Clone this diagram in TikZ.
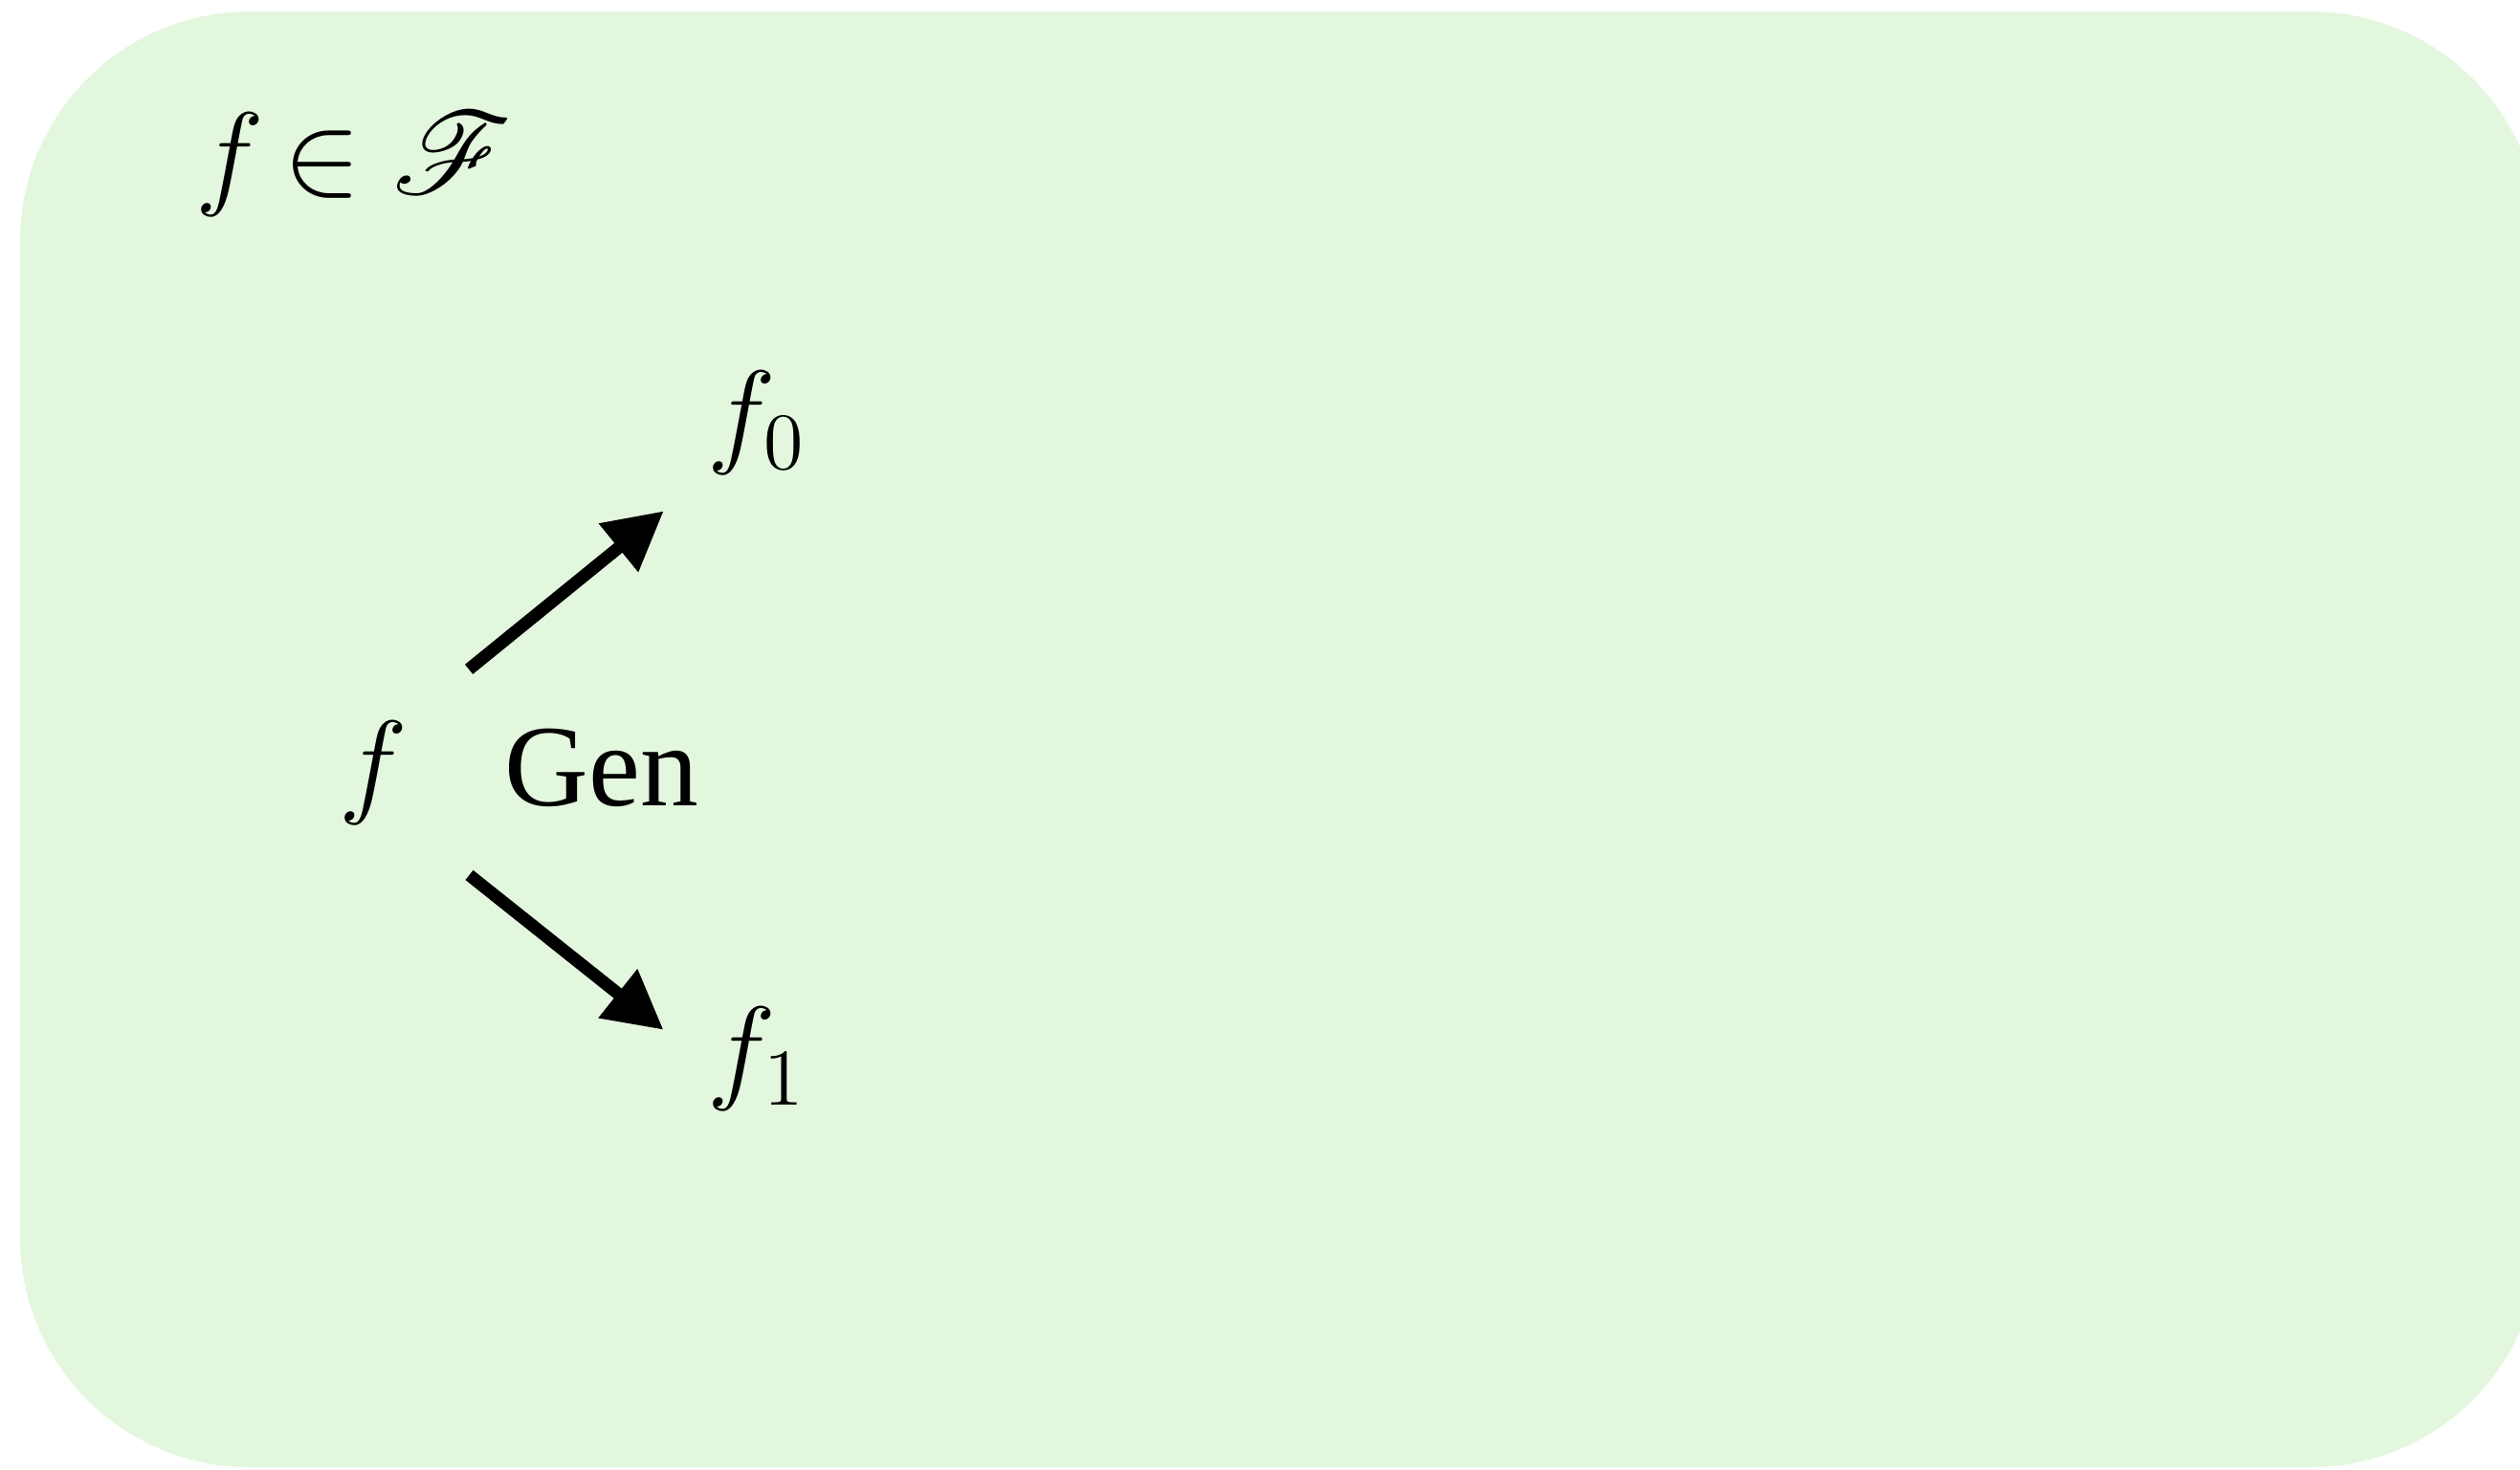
\documentclass[tikz,border=0pt]{standalone}
\usepackage{amsmath}
\usepackage{amssymb}
\usepackage{mathrsfs}
\usepackage{fontspec}
\setmainfont{Liberation Serif}
\usepackage{tikz}
\usetikzlibrary{positioning,arrows.meta}
\definecolor{setgreen}{RGB}{227,247,222}
\tikzset{
  % --- the function class ----------------------------------------------------
  setbox/.style={fill=setgreen,draw=none,rounded corners=12mm},
  fun/.style={inner sep=1pt,font=\LARGE},
  oplab/.style={inner sep=1pt,font=\LARGE},
  % --- generator -------------------------------------------------------------
  genarrow/.style={-{Triangle[length=3.05mm,width=3.1mm]},line width=0.65mm,
                   black},
}

\begin{document}
\begin{tikzpicture}[x=0.5mm, y=-0.5mm]
  \useasboundingbox (0,0) rectangle (263.4,153.6);
  \fill[setbox] (2.1,1.2) rectangle (265.5,153.4);

  \node[fun,anchor=base west] (fam) at (19.6,20.2)
       {$f\mspace{-2mu}\in\mathscr{F}$};
  \node[fun,anchor=base]      (f)   at (39,83.8)   {$f$};
  \node[oplab,anchor=base]    (gen) at (62.9,84.2) {Gen};
  \node[fun,anchor=base west] (f0)  at (73.1,47.2) {$f_0$};
  \node[fun,anchor=base west] (f1)  at (73.1,113.7) {$f_1$};

  \draw[genarrow,shorten <=3.6mm,shorten >=2.4mm] (f.north east) -- (f0.south west);
  \draw[genarrow,shorten <=3.6mm,shorten >=2.4mm] (f.south east) -- (f1.west);
\end{tikzpicture}
\end{document}
